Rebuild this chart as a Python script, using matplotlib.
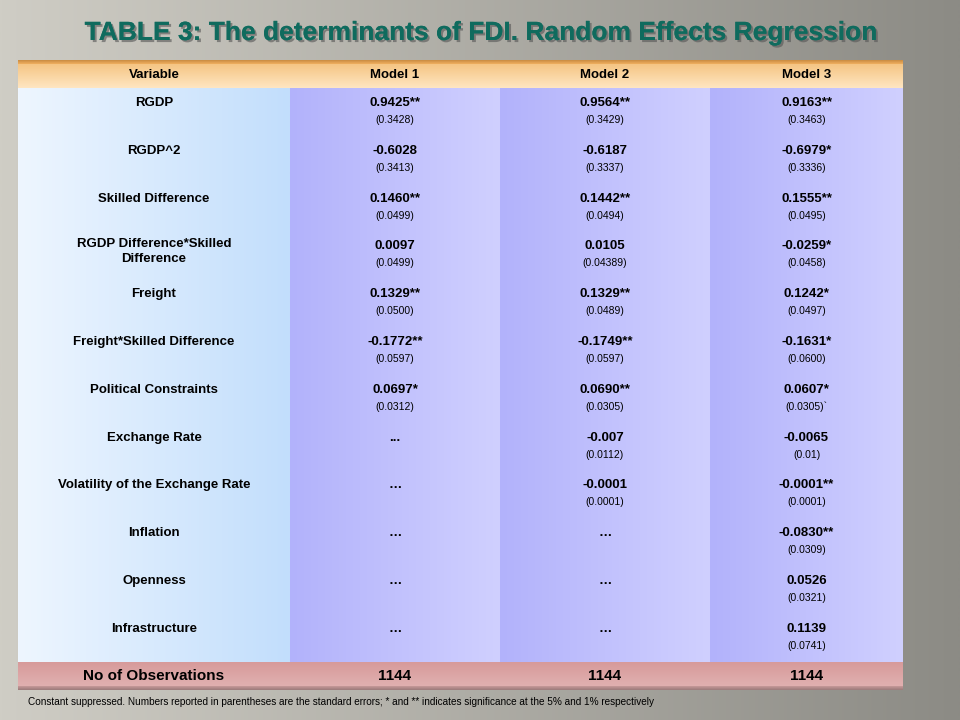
import numpy as np
import matplotlib
matplotlib.use("Agg")
import matplotlib.pyplot as plt
import matplotlib.patheffects as pe

variables = ["RGDP", "RGDP^2", "Skilled Difference", "RGDP Difference*Skilled\nDifference",
             "Freight", "Freight*Skilled Difference", "Political Constraints", "Exchange Rate",
             "Volatility of the Exchange Rate", "Inflation", "Openness", "Infrastructure"]
model1 = ["0.9425**", "-0.6028", "0.1460**", "0.0097", "0.1329**", "-0.1772**", "0.0697*",
          "...", "…", "…", "…", "…"]
model1_se = ["(0.3428)", "(0.3413)", "(0.0499)", "(0.0499)", "(0.0500)", "(0.0597)", "(0.0312)",
             "", "", "", "", ""]
model2 = ["0.9564**", "-0.6187", "0.1442**", "0.0105", "0.1329**", "-0.1749**", "0.0690**",
          "-0.007", "-0.0001", "…", "…", "…"]
model2_se = ["(0.3429)", "(0.3337)", "(0.0494)", "(0.04389)", "(0.0489)", "(0.0597)", "(0.0305)",
             "(0.0112)", "(0.0001)", "", "", ""]
model3 = ["0.9163**", "-0.6979*", "0.1555**", "-0.0259*", "0.1242*", "-0.1631*", "0.0607*",
          "-0.0065", "-0.0001**", "-0.0830**", "0.0526", "0.1139"]
model3_se = ["(0.3463)", "(0.3336)", "(0.0495)", "(0.0458)", "(0.0497)", "(0.0600)", "(0.0305)`",
             "(0.01)", "(0.0001)", "(0.0309)", "(0.0321)", "(0.0741)"]
headers = ["Variable", "Model 1", "Model 2", "Model 3"]
observations = ["No of Observations", "1144", "1144", "1144"]
title = "TABLE 3: The determinants of FDI. Random Effects Regression"
note = ("Constant suppressed. Numbers reported in parentheses are the standard errors; * and ** "
        "indicates significance at the 5% and 1% respectively")

FONT = ["Liberation Sans", "DejaVu Sans"]
plt.rcParams['font.family'] = FONT

fig = plt.figure(figsize=(9.6, 7.2), dpi=100)
ax = fig.add_axes([0, 0, 1, 1])
ax.set_xlim(0, 960); ax.set_ylim(720, 0); ax.axis("off")

def grad(x0, x1, y0, y1, c0, c1, horizontal=True, z=1):
    c0 = np.array(matplotlib.colors.to_rgb(c0)); c1 = np.array(matplotlib.colors.to_rgb(c1))
    t = np.linspace(0, 1, 256)
    g = c0[None, :] * (1 - t[:, None]) + c1[None, :] * t[:, None]
    img = g[None, :, :] if horizontal else g[:, None, :]
    ax.imshow(img, extent=(x0, x1, y1, y0), aspect="auto", zorder=z, interpolation="bilinear")

# background
grad(0, 960, 0, 720, "#cfcdc5", "#8c8b85", True, 0)

cols = [18, 290, 500, 710, 903]
row0, row_h, nrow = 88, 47.8, len(variables)
bottom = row0 + row_h * nrow
# header
grad(18, 903, 62, 88, "#f4c27e", "#ffe6c2", False, 2)
grad(18, 903, 60, 64, "#c88a40", "#f0b060", False, 2)
# body columns
grad(cols[0], cols[1], row0, bottom, "#eef6ff", "#c2defc", True, 2)
for i in range(1, 4):
    grad(cols[i], cols[i + 1], row0, bottom, "#b2b2fb", "#d0d0ff", True, 2)
# footer
grad(18, 903, bottom, bottom + 28, "#d79a9a", "#e2b4b4", False, 2)
grad(18, 903, bottom + 24, bottom + 28, "#c89a9a", "#9a7a7a", False, 2)

centers = [(cols[i] + cols[i + 1]) / 2 for i in range(4)]
for c, h in zip(centers, headers):
    ax.text(c, 75, h, ha="center", va="center", fontsize=9.5, fontweight="bold", zorder=5)

for r in range(nrow):
    y = row0 + r * row_h + 15
    if "\n" in variables[r]:
        ax.text(centers[0], y - 8, variables[r], ha="center", va="top", fontsize=9.5,
                fontweight="bold", zorder=5, linespacing=1.3)
    else:
        ax.text(centers[0], y, variables[r], ha="center", va="center", fontsize=9.5,
                fontweight="bold", zorder=5)
    for c, v, s in zip(centers[1:], [model1, model2, model3], [model1_se, model2_se, model3_se]):
        ax.text(c, y, v[r], ha="center", va="center", fontsize=9.5, fontweight="bold", zorder=5)
        if s[r]:
            ax.text(c, y + 17, s[r], ha="center", va="center", fontsize=7.5, zorder=5)

fy = bottom + 14
for c, v in zip(centers, observations):
    ax.text(c, fy, v, ha="center", va="center", fontsize=11, fontweight="bold", zorder=5)

ax.text(28, 702, note, ha="left", va="center", fontsize=7.2, zorder=5)
ax.text(481, 33, title, ha="center", va="center", fontsize=19, fontweight="bold",
        color="#0f6b5e", zorder=5,
        path_effects=[pe.withSimplePatchShadow(offset=(1.5, -1.5), shadow_rgbFace="#555555", alpha=0.6), pe.Normal()])

fig.savefig("out.png", dpi=100)
